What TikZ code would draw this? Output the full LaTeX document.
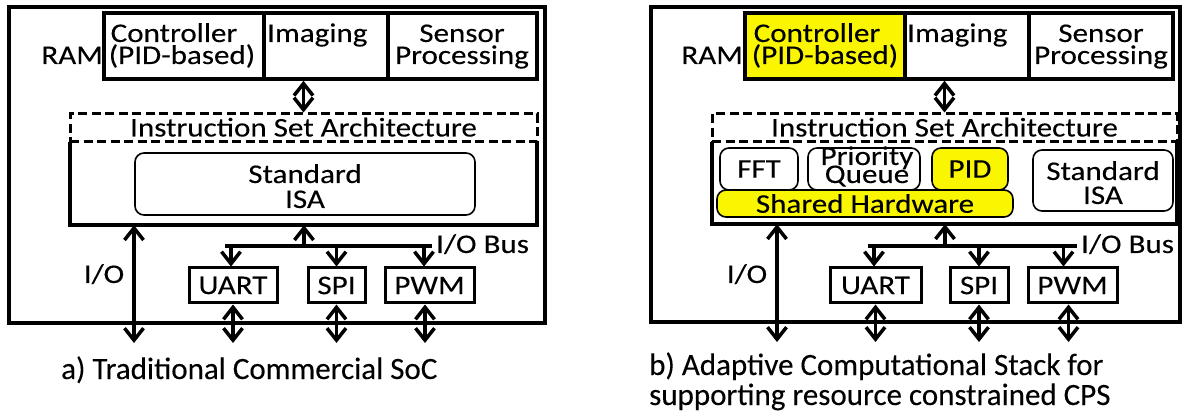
\documentclass[tikz,border=0pt]{standalone}
\usepackage{fontspec}
\setmainfont{Carlito}[FakeBold=0.15]
\newfontfamily\boxfont{Carlito}[FakeStretch=1.15,FakeBold=0.15]
\usetikzlibrary{arrows.meta}
\definecolor{hl}{RGB}{250,245,0}
\tikzset{
  txt/.style={inner sep=0pt, font=\boxfont\fontsize{27}{22}\selectfont},
  captxt/.style={inner sep=0pt, font=\fontsize{31}{30}\selectfont},
  thickbox/.style={draw, line width=3.5pt, inner sep=0pt},
  iobox/.style={draw, line width=3pt, inner sep=0pt, minimum height=35pt, font=\boxfont\fontsize{27}{22}\selectfont},
  dashbox/.style={draw, line width=3pt, dash pattern=on 9pt off 4.5pt, inner sep=0pt},
  rbox/.style={draw, line width=1.6pt, rounded corners=9pt, inner sep=0pt, font=\boxfont\fontsize{27}{22}\selectfont},
  solid3/.style={line width=3.5pt},
  arr/.style={line width=3.5pt, -{Straight Barb[length=12pt,width=19pt]}},
  darr/.style={line width=3.5pt, {Straight Barb[length=12pt,width=19pt]}-{Straight Barb[length=12pt,width=19pt]}},
}
\begin{document}
\begin{tikzpicture}[x=1pt,y=-1pt]
\useasboundingbox (0,0) rectangle (1188,419);

% ================= LEFT PANEL =================
\node[thickbox, minimum width=536pt, minimum height=316pt] (outerL) at (277,165) {};
\node[txt, anchor=base east] (ramL) at (103,64) {RAM};
\node[thickbox, minimum width=160pt, minimum height=66pt] (ctrlL) at (184,46) {};
\node[thickbox, minimum width=124pt, minimum height=66pt] (imgL) at (326,46) {};
\node[thickbox, minimum width=149pt, minimum height=66pt] (sensL) at (462.5,46) {};
\node[txt, anchor=base] (ctrlLa) at (174,42) {Controller};
\node[txt, anchor=base] (ctrlLb) at (182,64) {(PID-based)};
\node[txt, anchor=base west] (imgLt) at (267,42) {Imaging};
\node[txt, anchor=base] (sensLa) at (462,42) {Sensor};
\node[txt, anchor=base] (sensLb) at (462,64) {Processing};

\node[dashbox, minimum width=467pt, minimum height=28pt] (isaL) at (303.5,128) {};
\node[txt, anchor=base] (isaLt) at (303.5,136.5) {Instruction Set Architecture};
\node[minimum width=467pt, minimum height=83pt, inner sep=0pt] (coreL) at (303.5,183.5) {};
\draw[solid3] (coreL.north west) |- (coreL.south east) -- (coreL.north east);
\node[rbox, minimum width=340pt, minimum height=62pt] (stdL) at (305,184) {};
\node[txt, anchor=base] (stdLa) at (305,183) {Standard};
\node[txt, anchor=base] (stdLb) at (305,208) {ISA};

\draw[darr] (isaL.north |- imgL.south) -- (isaL.north);

\coordinate (ioLend) at (134,343);
\draw[darr] (ioLend |- coreL.south) -- (ioLend);
\node[txt, anchor=base] (ioL) at (104,283) {I/O};

\coordinate (busL) at (304,246);
\coordinate (busLl) at (225,246);
\coordinate (busLr) at (432,246);
\draw[solid3] (busLl) -- (busLr);
\draw[arr] (busL) -- (busL |- coreL.south);
\node[txt, anchor=base west] (iobusL) at (436,253) {I/O Bus};

\node[iobox, minimum width=88pt] (uartL) at (233,285.5) {UART};
\node[iobox, minimum width=57pt] (spiL) at (336.5,285.5) {SPI};
\node[iobox, minimum width=89pt] (pwmL) at (429.5,285.5) {PWM};
\draw[arr] ([xshift=-2pt]uartL.north |- busL) -- ([xshift=-2pt]uartL.north);
\draw[arr] (spiL.north |- busL) -- (spiL.north);
\draw[arr] ([xshift=-5.5pt]pwmL.north |- busL) -- ([xshift=-5.5pt]pwmL.north);
\draw[darr] (uartL.south) -- (uartL.south |- ioLend);
\draw[darr] (spiL.south) -- (spiL.south |- ioLend);
\draw[darr] ([xshift=-4.5pt]pwmL.south) -- ([xshift=-4.5pt]pwmL.south |- ioLend);

\node[captxt, anchor=base west] (capL) at (61,379) {a) Traditional Commercial SoC};

% ================= RIGHT PANEL =================
\node[thickbox, minimum width=529pt, minimum height=315pt] (outerR) at (915.5,164.5) {};
\node[txt, anchor=base east] (ramR) at (743,64) {RAM};
\node[thickbox, fill=hl, minimum width=160pt, minimum height=66pt] (ctrlR) at (825,46) {};
\node[thickbox, minimum width=124pt, minimum height=66pt] (imgR) at (967,46) {};
\node[thickbox, minimum width=144pt, minimum height=66pt] (sensR) at (1101,46) {};
\node[txt, anchor=base] (ctrlRa) at (817,42) {Controller};
\node[txt, anchor=base] (ctrlRb) at (825,64) {(PID-based)};
\node[txt, anchor=base west] (imgRt) at (907,42) {Imaging};
\node[txt, anchor=base] (sensRa) at (1101,42) {Sensor};
\node[txt, anchor=base] (sensRb) at (1101,64) {Processing};

\node[dashbox, minimum width=465pt, minimum height=28pt] (isaR) at (944.5,128) {};
\node[txt, anchor=base] (isaRt) at (944.5,136.5) {Instruction Set Architecture};
\node[minimum width=465pt, minimum height=82pt, inner sep=0pt] (coreR) at (944.5,183) {};
\draw[solid3] (coreR.north west) |- (coreR.south east) -- (coreR.north east);

\node[rbox, minimum width=78pt, minimum height=42pt] (fftR) at (759,169) {FFT};
\node[rbox, minimum width=112pt, minimum height=42pt] (pqR) at (864,169) {};
\node[txt, anchor=base] (pqRa) at (867,165) {Priority};
\node[txt, anchor=base] (pqRb) at (867,183) {Queue};
\node[rbox, fill=hl, minimum width=76pt, minimum height=42pt] (pidR) at (970,169) {PID};
\node[rbox, fill=hl, minimum width=296pt, minimum height=27pt] (shR) at (865,203.5) {Shared Hardware};
\node[rbox, minimum width=140pt, minimum height=61pt] (stdR) at (1103,180.5) {};
\node[txt, anchor=base] (stdRa) at (1103,180) {Standard};
\node[txt, anchor=base] (stdRb) at (1103,204) {ISA};

\draw[darr] (isaR.north |- imgR.south) -- (isaR.north);

\coordinate (ioRend) at (777,342);
\draw[darr] (ioRend |- coreR.south) -- (ioRend);
\node[txt, anchor=base] (ioR) at (747,283) {I/O};

\coordinate (busR) at (945,246);
\coordinate (busRl) at (868,246);
\coordinate (busRr) at (1077,246);
\draw[solid3] (busRl) -- (busRr);
\draw[arr] (busR) -- (busR |- coreR.south);
\node[txt, anchor=base west] (iobusR) at (1081,253) {I/O Bus};

\node[iobox, minimum width=91pt] (uartR) at (875.5,285.5) {UART};
\node[iobox, minimum width=58pt] (spiR) at (979,285.5) {SPI};
\node[iobox, minimum width=89pt] (pwmR) at (1072.5,285.5) {PWM};
\draw[arr] ([xshift=-1.5pt]uartR.north |- busR) -- ([xshift=-1.5pt]uartR.north);
\draw[arr] (spiR.north |- busR) -- (spiR.north);
\draw[arr] ([xshift=-9pt]pwmR.north |- busR) -- ([xshift=-9pt]pwmR.north);
\draw[darr] (uartR.south) -- (uartR.south |- ioRend);
\draw[darr] (spiR.south) -- (spiR.south |- ioRend);
\draw[darr] ([xshift=-4pt]pwmR.south) -- ([xshift=-4pt]pwmR.south |- ioRend);

\node[captxt, anchor=base west] (capRa) at (649,375) {b) Adaptive Computational Stack for};
\node[captxt, anchor=base west] (capRb) at (649,405) {supporting resource constrained CPS};
\end{tikzpicture}
\end{document}
